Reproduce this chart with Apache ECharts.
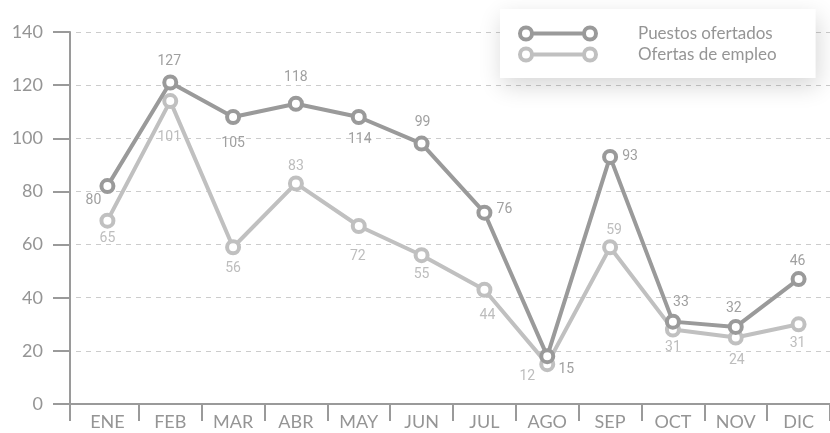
<!DOCTYPE html>
<html>
<head>
<meta charset="utf-8">
<script src="https://cdn.jsdelivr.net/npm/echarts@6/dist/echarts.min.js"></script>
<style>html,body{margin:0;padding:0;background:#fff}#c{width:830px;height:433px}</style>
</head>
<body>
<div id="c"></div>
<script>
// ---- data ----
var months = ['ENE','FEB','MAR','ABR','MAY','JUN','JUL','AGO','SEP','OCT','NOV','DIC'];
var yTicks = [0, 20, 40, 60, 80, 100, 120, 140];
// plotted positions (as drawn)
var puestos = [82, 121, 108, 113, 108, 98, 72, 18, 93, 31, 29, 47];
var ofertas = [69, 114, 59, 83, 67, 56, 43, 15, 59, 28, 25, 30];
// printed value labels
var puestosLabels = [80, 127, 105, 118, 114, 99, 76, 15, 93, 33, 32, 46];
var ofertasLabels = [65, 101, 56, 83, 72, 55, 44, 12, 59, 31, 24, 31];
var seriesNames = ['Puestos ofertados', 'Ofertas de empleo'];

// ---- label placement (style) ----
var puestosOffsets = [[-14,14],[-1,-21],[0,26],[0,-26],[1,22],[1,-21],[20,-3],[19,13],[20,0],[8,-19],[-2,-18],[-1,-18]];
var ofertasOffsets = [[0,18],[-1,36],[0,21],[0,-17],[-1,31],[0,19],[3,26],[-20,12],[4,-17],[0,18],[1,23],[-1,19]];

var DARK = '#9a9a9a', LIGHT = '#c0c0c0';

function build(values, labels, offsets, color) {
  return values.map(function (v, i) {
    return {
      value: v,
      label: {
        show: true, position: 'inside', offset: offsets[i],
        formatter: String(labels[i]),
        color: color, fontFamily: 'Roboto', fontSize: 14
      }
    };
  });
}

var legendIcon = 'path://M0,8 A8,8 0 1,1 16,8 A8,8 0 1,1 0,8 Z M4,8 A4,4 0 1,0 12,8 A4,4 0 1,0 4,8 Z ' +
  'M15,6 L65,6 L65,10 L15,10 Z ' +
  'M64,8 A8,8 0 1,1 80,8 A8,8 0 1,1 64,8 Z M68,8 A4,4 0 1,0 76,8 A4,4 0 1,0 68,8 Z';

var chart = echarts.init(document.getElementById('c'), null, {renderer: 'canvas'});
chart.setOption({
  animation: false,
  grid: {left: 76, right: -3, top: 32, bottom: 29, containLabel: false},
  legend: {
    orient: 'vertical', left: 500, top: 9,
    data: [
      {name: seriesNames[0], itemStyle: {color: DARK, borderWidth: 0}},
      {name: seriesNames[1], itemStyle: {color: LIGHT, borderWidth: 0}}
    ],
    icon: legendIcon, itemWidth: 80, itemHeight: 16, itemGap: 4,
    padding: [16, 39, 15, 18],
    backgroundColor: '#fff',
    shadowBlur: 22, shadowColor: 'rgba(0,0,0,0.16)', shadowOffsetX: 2, shadowOffsetY: 8,
    textStyle: {fontFamily: 'Lato', fontSize: 17, color: '#959595', padding: [0, 0, 0, 35]}
  },
  xAxis: {
    type: 'category', data: months, boundaryGap: true,
    axisLine: {lineStyle: {color: DARK, width: 2}},
    axisTick: {show: true, length: 17, lineStyle: {color: DARK, width: 2},
      interval: function (index) { return index !== 0; }},
    axisLabel: {color: '#959595', fontFamily: 'Lato', fontSize: 18, margin: 9, interval: 0},
    splitLine: {show: false}
  },
  yAxis: {
    type: 'value', min: yTicks[0], max: yTicks[yTicks.length - 1], interval: 20, offset: 6,
    axisLine: {show: true, lineStyle: {color: DARK, width: 2}},
    axisTick: {show: true, length: 17, lineStyle: {color: DARK, width: 2}},
    axisLabel: {color: '#959595', fontFamily: 'Lato', fontSize: 18, margin: 27},
    splitLine: {show: true, lineStyle: {color: '#cccccc', width: 1, type: [5, 5]}}
  },
  graphic: [
    {type: 'line', shape: {x1: 70, y1: 404, x2: 77, y2: 404}, style: {stroke: DARK, lineWidth: 2}, silent: true},
    {type: 'line', shape: {x1: 70, y1: 403, x2: 70, y2: 421}, style: {stroke: DARK, lineWidth: 2}, silent: true}
  ],
  series: [
    {
      name: seriesNames[1], type: 'line', data: build(ofertas, ofertasLabels, ofertasOffsets, '#bdbdbd'),
      color: LIGHT, symbol: 'circle', symbolSize: 12, showAllSymbol: true,
      lineStyle: {color: LIGHT, width: 4},
      itemStyle: {color: '#ffffff', borderColor: LIGHT, borderWidth: 4}, z: 2
    },
    {
      name: seriesNames[0], type: 'line', data: build(puestos, puestosLabels, puestosOffsets, '#a0a0a0'),
      color: DARK, symbol: 'circle', symbolSize: 12, showAllSymbol: true,
      lineStyle: {color: DARK, width: 4},
      itemStyle: {color: '#ffffff', borderColor: DARK, borderWidth: 4}, z: 3
    }
  ]
});
</script>
</body>
</html>
